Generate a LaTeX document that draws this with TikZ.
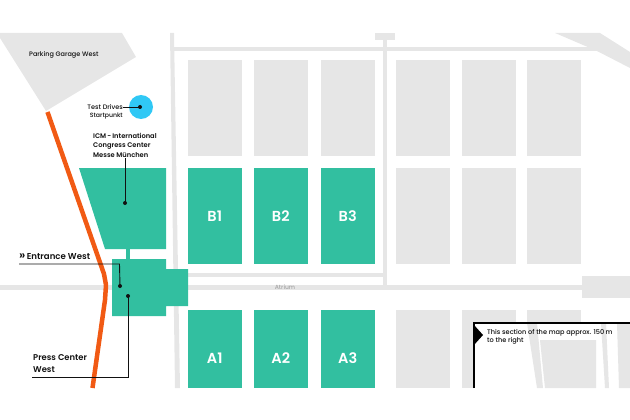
\documentclass[tikz,border=0pt]{standalone}
\usepackage{fontspec}
\setmainfont{Poppins}[UprightFont=* Medium,BoldFont=* SemiBold]
\usetikzlibrary{calc}
\definecolor{hallgreen}{HTML}{32BFA0}
\definecolor{roadgrey}{HTML}{E6E6E6}
\definecolor{routeorange}{HTML}{F15A14}
\definecolor{spotblue}{HTML}{30C8F5}
\definecolor{inkblack}{HTML}{111111}
\tikzset{
  maplabel/.style={font=\fontsize{6.5}{9.4}\selectfont,text=inkblack,inner sep=0pt,align=left},
  halllabel/.style={font=\bfseries\fontsize{14.5}{16}\selectfont,text=white,inner sep=0pt},
  leader/.style={draw=inkblack,line width=0.9pt},
}
\begin{document}
\begin{tikzpicture}[x=1pt,y=-1pt]
\useasboundingbox (0,0) rectangle (630,420);
% parking and roads
\fill[roadgrey] (0,33)--(122,33)--(136,57)--(46,111)--(0,38)--cycle;
\fill[roadgrey] (170,33)--(174,33)--(180,388)--(175,388)--cycle;
\fill[roadgrey] (174,47)--(598,47)--(598,51.5)--(174,51.5)--cycle;
\fill[roadgrey] (555,33)--(600,33)--(630,52)--(630,68)--(597,51)--cycle;
\fill[roadgrey] (375,33) rectangle (395,40);
\fill[roadgrey] (383,40) rectangle (387,285);
\fill[roadgrey] (176,273) rectangle (383,277);
\fill[roadgrey] (0,285) rectangle (582,290);
\fill[roadgrey] (582,276) rectangle (630,298);
% halls in grey
\foreach \x in {188,254,321,396,462,527}
	\fill[roadgrey] (\x,60) rectangle ++(53.5,95.5);
\foreach \x in {396,462,527}
	\fill[roadgrey] (\x,168) rectangle ++(53.5,96);
\foreach \x in {396,462,527}
	\fill[roadgrey] (\x,310) rectangle ++(53.5,78);
% halls in green
\foreach \x/\n in {188/B1,254/B2,321/B3}{
	\fill[hallgreen] (\x,168) rectangle ++(53.5,96);
	\node[halllabel] (hall\n) at (\x+26.75,216) {\n};
}
\foreach \x/\n in {188/A1,254/A2,321/A3}{
	\fill[hallgreen] (\x,310) rectangle ++(53.5,78);
	\node[halllabel] (hall\n) at (\x+26.75,358) {\n};
}
\fill[hallgreen] (79,168)--(166,168)--(166,249)--(105,249)--cycle;
\fill[hallgreen] (126,249) rectangle (130,259);
\fill[hallgreen] (112,259)--(166,259)--(166,269)--(188,269)--(188,306)--(166,306)--(166,316)--(112,316)--cycle;
% route
\draw[routeorange,line width=4.5pt,line join=round] (47.5,112)--(104,274)--(106,285)--(105,300)--(92.5,388);
% test drives
\fill[spotblue] (141,107) circle (12);
\coordinate[] (T) at (140,107);
\coordinate[] (I) at (125,203);
\coordinate[] (E) at (120,286);
\coordinate[] (P) at (128,296);
\foreach \p in {T,I,E,P}
	\fill[inkblack] (\p) circle (2);
% labels
\node[maplabel,anchor=west] (garage) at (29,54.5) {Parking Garage West};
\node[maplabel,anchor=east] (drives) at (123,107) {Test Drives};
\node[maplabel,anchor=east,font=\fontsize{6.2}{8}\selectfont] (start) at (123,116.5) {Startpunkt};
\node[maplabel,anchor=north west,font=\bfseries\fontsize{6.7}{9.5}\selectfont] (icm) at (93,133) {ICM\,-\,International\\Congress Center\\Messe München};
\node[maplabel,anchor=west,font=\bfseries\fontsize{8.6}{10}\selectfont] (west) at (19,256.5) {{\fontsize{12}{10}\selectfont\symbol{"00BB}}\,Entrance West};
\node[maplabel,anchor=north west,font=\bfseries\fontsize{8.4}{12}\selectfont] (press) at (33,354) {Press Center\\West};
\node[anchor=center,inner sep=0pt,font=\fontsize{6}{7}\selectfont,text=black!35] (atrium) at (285,287.5) {Atrium};
% leaders
\coordinate[] (W) at (19,264);
\coordinate[] (W1) at (119.5,264);
\coordinate[] (Q) at (32,377);
\coordinate[] (Q1) at (128,377);
\coordinate[] (I1) at (125,158);
\draw[leader] (drives) -- (T);
\draw[leader] (I1) -- (I);
\draw[leader] (W) -- (W1) -- (E);
\draw[leader] (Q) -- (Q1) -- (P);
% inset
\fill[white] (474,323) rectangle (630,388);
\fill[roadgrey] (527,323)--(537,323)--(543,388)--(537,388)--cycle;
\fill[roadgrey] (540,340)--(596,340)--(596,388)--(545,388)--cycle;
\fill[roadgrey] (601,323)--(606,323)--(609,388)--(605,388)--cycle;
\fill[roadgrey] (617,323)--(630,323)--(630,388)--(619,388)--cycle;
\draw[black,line width=2.5pt] (474,388)--(474,323)--(630,323);
\fill[black] (474,325)--(483,335)--(474,345)--cycle;
\node[maplabel,anchor=north west,font=\fontsize{6.6}{8.6}\selectfont] (section) at (487,329) {This section of the map approx. 150\,m\\to the right};
\end{tikzpicture}
\end{document}
